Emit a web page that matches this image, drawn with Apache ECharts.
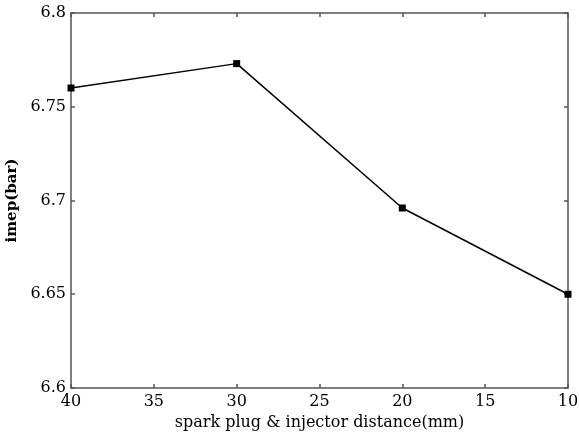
<!DOCTYPE html>
<html>
<head>
<meta charset="utf-8">
<script src="https://cdn.jsdelivr.net/npm/echarts@6/dist/echarts.min.js"></script>
<style>html,body{margin:0;padding:0;background:#fff;}#c{width:579px;height:437px;}</style>
</head>
<body>
<div id="c"></div>
<script>
var distances = [40, 30, 20, 10];
var imep = [6.760, 6.773, 6.696, 6.650];
var xTicks = [40, 35, 30, 25, 20, 15, 10];
var yTicks = [6.6, 6.65, 6.7, 6.75, 6.8];

var font = 'DejaVu Serif';
var axisColor = '#555';
var chart = echarts.init(document.getElementById('c'));
function fmt(v){ return String(parseFloat(Number(v).toFixed(2))); }
var common = {
  axisLine: {show: true, lineStyle: {color: axisColor, width: 1.5}},
  axisTick: {show: true, inside: true, length: 4, lineStyle: {color: axisColor, width: 1.5}},
  splitLine: {show: false}
};
chart.setOption({
  animation: false,
  backgroundColor: '#fff',
  grid: {left: 71, right: 11, top: 13, bottom: 49, containLabel: false, outerBoundsMode: 'none'},
  xAxis: [
    Object.assign({
      type: 'value', min: 10, max: 40, interval: 5, inverse: true, position: 'bottom',
      name: 'spark plug & injector distance(mm)', nameLocation: 'middle', nameGap: 26,
      nameTextStyle: {fontFamily: font, fontSize: 16, color: '#000'},
      axisLabel: {fontFamily: font, fontSize: 16, color: '#000', margin: 6, formatter: fmt}
    }, common),
    Object.assign({
      type: 'value', min: 10, max: 40, interval: 5, inverse: true, position: 'top',
      axisLabel: {show: false}
    }, common)
  ],
  yAxis: [
    Object.assign({
      type: 'value', min: 6.6, max: 6.8, interval: 0.05, position: 'left',
      name: 'imep(bar)', nameLocation: 'middle', nameGap: 45,
      nameTextStyle: {fontFamily: font, fontSize: 15, fontWeight: 'bold', color: '#000'},
      axisLabel: {fontFamily: font, fontSize: 16, color: '#000', margin: 5, formatter: fmt}
    }, common),
    Object.assign({
      type: 'value', min: 6.6, max: 6.8, interval: 0.05, position: 'right',
      axisLabel: {show: false}
    }, common)
  ],
  series: [{
    type: 'line',
    xAxisIndex: 0, yAxisIndex: 0,
    data: distances.map(function(d, i){ return [d, imep[i]]; }),
    symbol: 'rect', symbolSize: 7,
    lineStyle: {color: '#000', width: 1.5},
    itemStyle: {color: '#000'},
    clip: false
  }]
});
</script>
</body>
</html>
